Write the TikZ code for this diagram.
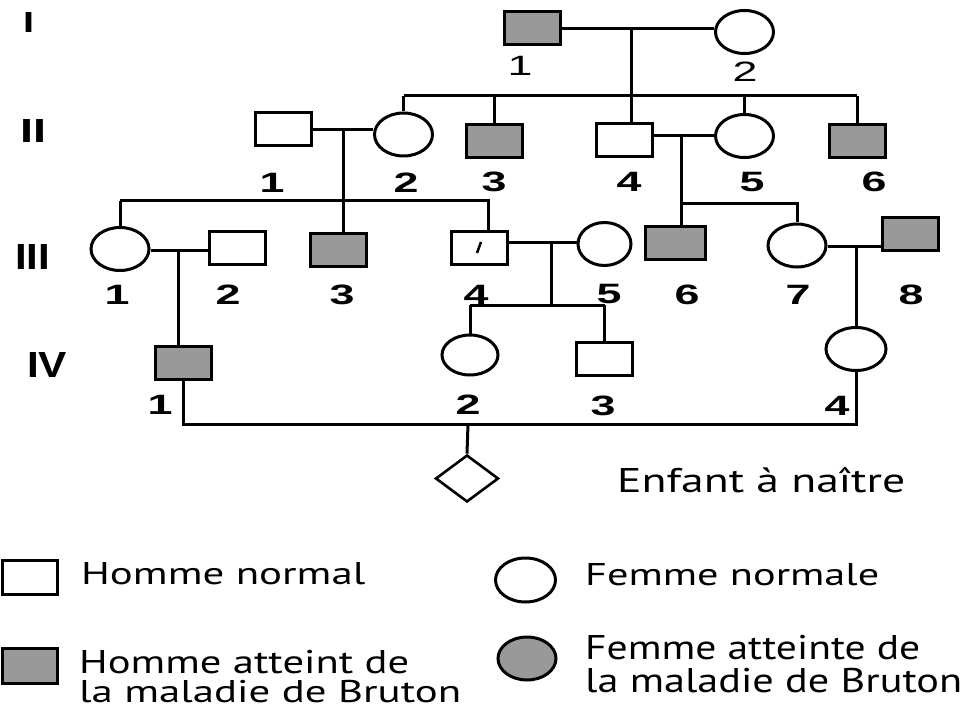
\documentclass[tikz,border=0pt]{standalone}
\usepackage{fontspec}
\usepackage{graphicx}
\setmainfont{Liberation Sans}
\newfontfamily\legfont{PT Sans}
\usetikzlibrary{shapes.geometric}
\definecolor{affgray}{rgb}{0.6,0.6,0.6}
\newcommand{\fittext}[3]{\resizebox{#1}{#2}{\raisebox{0pt}[\fontcharht\font`H][0pt]{#3}}}
\newcommand{\nb}[1]{\scalebox{1.6}[1]{#1}}
\begin{document}
\begin{tikzpicture}[x=1pt,y=-1pt,
  ind/.style={draw=black, line width=3pt, inner sep=0pt, fill=white},
  male/.style={ind, rectangle, minimum width=56pt, minimum height=33pt},
  female/.style={ind, ellipse, minimum width=58pt, minimum height=43pt},
  aff/.style={fill=affgray},
  unborn/.style={draw=black, line width=2.6pt, diamond, inner sep=0pt, minimum width=63pt, minimum height=47pt},
  lab/.style={inner sep=0pt, font=\fontsize{28}{28}\selectfont\bfseries},
  labI/.style={inner sep=0pt, font=\fontsize{28}{28}\selectfont},
  gen/.style={inner sep=0pt, anchor=south west, font=\bfseries},
  leg/.style={inner sep=0pt, anchor=base west, font=\legfont},
  link/.style={line width=3pt, draw=black}
]
\useasboundingbox (0,0) rectangle (966,711);

% generation labels
\node[gen] (gI) at (23,33) {\fittext{11pt}{20pt}{I}};
\node[gen] (gII) at (20,143) {\fittext{26pt}{23pt}{II}};
\node[gen] (gIII) at (15,270) {\fittext{35pt}{25pt}{III}};
\node[gen] (gIV) at (27,378) {\fittext{40pt}{25pt}{IV}};

% individuals
\node[male,aff] (I1) at (532,28.5) {};
\node[female] (I2) at (744.5,32) {};

\node[male] (II1) at (283,129.5) {};
\node[female] (II2) at (403.5,134.5) {};
\node[male,aff] (II3) at (494,141) {};
\node[male] (II4) at (624.5,140) {};
\node[female] (II5) at (744.5,136) {};
\node[male,aff] (II6) at (857,141) {};

\node[female] (III1) at (120,249) {};
\node[male] (III2) at (237.5,248) {};
\node[male,aff] (III3) at (338,250.5) {};
\node[male] (III4) at (479,248) {};
\node[female, minimum width=53pt] (III5) at (604.5,244) {};
\node[male,aff, minimum width=60pt] (III6) at (675.5,243) {};
\node[female] (III7) at (797,245.5) {};
\node[male,aff] (III8) at (910.5,234.5) {};

\node[male,aff] (IV1) at (183.5,363) {};
\node[female, minimum width=56pt, minimum height=40pt] (IV2) at (470,355) {};
\node[male] (IV3) at (604.5,359) {};
\node[female, minimum width=60pt] (IV4) at (856,349) {};

\node[unborn] (V1) at (467,478.5) {};

% small mark in III-4
\draw[line width=2.5pt] ([shift={(-2,5)}]III4.center) -- ([shift={(2,-6)}]III4.center);

% connectors
\coordinate (mI) at (631,29);
\draw[link] (I1.east |- mI) -- (I2.west |- mI);
\draw[link] (mI) -- (mI |- II4.north);
\coordinate (sII) at (403.5,96);
\draw[link] (II2.north |- sII) -- (II6.north |- sII);
\draw[link] (II2.north |- sII) -- (II2.north);
\draw[link] (II3.north |- sII) -- (II3.north);
\draw[link] (II5.north |- sII) -- (II5.north);
\draw[link] (II6.north |- sII) -- (II6.north);

\coordinate (mII) at (343,130);
\draw[link] (II1.east |- mII) -- (II2.west |- mII);
\draw[link] (mII) -- (mII |- III3.north);
\coordinate (sIIIa) at (488,201);
\draw[link] (III1.north |- sIIIa) -- (sIIIa) -- (sIIIa |- III4.north);
\draw[link] (III1.north |- sIIIa) -- (III1.north);

\coordinate (mII2) at (681,136);
\draw[link] (II4.east |- mII2) -- (II5.west |- mII2);
\draw[link] (mII2) -- (mII2 |- III6.north);
\coordinate (sIIIb) at (681,204);
\draw[link] (sIIIb) -- (sIIIb -| III7.north) -- (III7.north);

\coordinate (mIIIa) at (178,251);
\draw[link] (III1.east |- mIIIa) -- (III2.west |- mIIIa);
\draw[link] (mIIIa) -- (mIIIa |- IV1.north);

\coordinate (mIIIb) at (551,243);
\coordinate (sIV) at (551,305);
\draw[link] (III4.east |- mIIIb) -- (III5.west |- mIIIb);
\draw[link] (mIIIb) -- (sIV);
\draw[link] (IV2.north |- sIV) -- (IV3.north |- sIV);
\draw[link] (IV2.north |- sIV) -- (IV2.north);
\draw[link] (IV3.north |- sIV) -- (IV3.north);

\coordinate (mIIIc) at (856,247);
\draw[link] (III7.east |- mIIIc) -- (III8.west |- mIIIc);
\draw[link] (mIIIc) -- (mIIIc |- IV4.north);

\coordinate (mIV) at (468,424);
\draw[link] (IV1.south) |- (mIV) -| (IV4.south);
\draw[link] (mIV) -- (V1.north);

% number labels
\node[labI] (nI1) at (520,66) {\nb{1}};
\node[labI] (nI2) at (745,72) {\nb{2}};
\node[lab] (nII1) at (272,183) {\nb{1}};
\node[lab] (nII2) at (406,183) {\nb{2}};
\node[lab] (nII3) at (494,182) {\nb{3}};
\node[lab] (nII4) at (629,182) {\nb{4}};
\node[lab] (nII5) at (752,182) {\nb{5}};
\node[lab] (nII6) at (874,182) {\nb{6}};
\node[lab] (nIII1) at (117,295) {\nb{1}};
\node[lab] (nIII2) at (228,295) {\nb{2}};
\node[lab] (nIII3) at (342,295) {\nb{3}};
\node[lab] (nIII4) at (476,295) {\nb{4}};
\node[lab] (nIII5) at (609,294) {\nb{5}};
\node[lab] (nIII6) at (687,295) {\nb{6}};
\node[lab] (nIII7) at (798,295) {\nb{7}};
\node[lab] (nIII8) at (911,295) {\nb{8}};
\node[lab] (nIV1) at (160,405) {\nb{1}};
\node[lab] (nIV2) at (468,405) {\nb{2}};
\node[lab] (nIV3) at (603,406) {\nb{3}};
\node[lab] (nIV4) at (837,406) {\nb{4}};

\node[leg] (tV) at (617,492) {\fittext{288pt}{24pt}{Enfant à naître}};

% legend
\node[male, minimum width=55pt, minimum height=34pt] (Lm) at (29.5,577) {};
\node[female, minimum width=60pt, minimum height=44pt] (Lf) at (525.5,580) {};
\node[male,aff, minimum width=55pt, minimum height=35pt] (La) at (29.5,665.5) {};
\node[female,aff, minimum width=58pt, minimum height=43pt] (Lfa) at (527,658.5) {};

\node[leg] (tLm) at (81,584) {\fittext{284pt}{22pt}{Homme normal}};
\node[leg] (tLf) at (585,585) {\fittext{294pt}{22pt}{Femme normale}};
\node[leg] (tLa1) at (79,673) {\fittext{330pt}{23pt}{Homme atteint de}};
\node[leg] (tLa2) at (79,702) {\fittext{382pt}{22pt}{la maladie de Bruton}};
\node[leg] (tLfa1) at (585,659) {\fittext{335pt}{24pt}{Femme atteinte de}};
\node[leg] (tLfa2) at (585,692) {\fittext{377pt}{24pt}{la maladie de Bruton}};
\end{tikzpicture}
\end{document}
